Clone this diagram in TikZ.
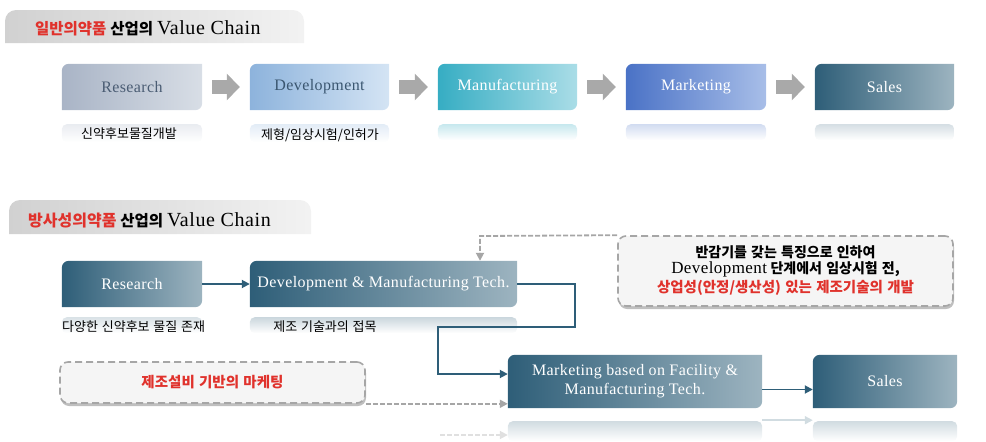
\documentclass[tikz,border=0pt]{standalone}
\usepackage{fontspec}
\setmainfont{Liberation Serif}
\newfontfamily\krfont[WordSpace=1.3]{Noto Sans CJK KR}
\newfontfamily\boxfont[LetterSpace=2.5]{Liberation Serif}
\newfontfamily\titlelatin[LetterSpace=3]{Liberation Serif}
\usetikzlibrary{arrows.meta,calc,backgrounds,shadows}
\definecolor{tred}{HTML}{E0322C}
\definecolor{tealL}{HTML}{2E5E78}
\definecolor{tealR}{HTML}{9DB4C0}
\definecolor{resL}{HTML}{A9B4C6}
\definecolor{resR}{HTML}{D8DEE6}
\definecolor{resT}{HTML}{4A5C73}
\definecolor{devL}{HTML}{8DB3DC}
\definecolor{devR}{HTML}{D4E4F4}
\definecolor{devT}{HTML}{3A5670}
\definecolor{manL}{HTML}{36ADC3}
\definecolor{manR}{HTML}{AADDE7}
\definecolor{mkL}{HTML}{4A72C6}
\definecolor{mkR}{HTML}{A8BEE8}
\definecolor{arrgray}{HTML}{A9A9A9}
\definecolor{dashgray}{HTML}{A6A6A6}
\definecolor{calloutfill}{HTML}{F5F5F5}
\tikzset{
  chainbox/.style={inner sep=0pt, minimum height=46pt, font=\boxfont\fontsize{16}{19}\selectfont},
  captiontext/.style={inner sep=0pt, font=\krfont\fontsize{13}{15}\selectfont, text=black},
  blockarrow/.style={draw=arrgray, line width=14pt, -{Triangle[length=13pt,width=26pt]}, shorten <=10pt, shorten >=10pt},
  flowline/.style={draw=tealL, line width=1.8pt, -{Triangle[length=8pt,width=8pt]}},
  dashflow/.style={draw=dashgray, line width=1.8pt, dash pattern=on 5pt off 2pt, -{Triangle[length=8pt,width=8pt]}},
  ghostline/.style={draw=tealL!22, line width=1.8pt, -{Triangle[length=8pt,width=8pt]}},
  ghostdash/.style={draw=black!12, line width=1.8pt, dash pattern=on 5pt off 2pt, -{Triangle[length=8pt,width=8pt]}},
  callout/.style={draw=dashgray, line width=1.6pt, dash pattern=on 7pt off 4pt, fill=calloutfill,
    rounded corners=8pt, inner sep=0pt,
    drop shadow={shadow xshift=1pt, shadow yshift=-3pt, fill=black!50, opacity=0.5}},
  titletext/.style={inner sep=0pt, anchor=west, font=\fontsize{15.5}{18}\selectfont},
}
\newcommand\chainshade[3]{%
  \begin{pgfonlayer}{background}
  \shade[left color=#2, right color=#3, rounded corners=7pt]
    (#1.north west) rectangle (#1.south east)
    [sharp corners] ($(#1.north east)+(-9pt,0pt)$) rectangle ($(#1.north east)+(0pt,-9pt)$)
    ($(#1.south west)+(0pt,9pt)$) rectangle ($(#1.south west)+(9pt,0pt)$);
  \end{pgfonlayer}}
\newcommand\reflectstrip[4]{%
  \begin{pgfonlayer}{background}
  \shade[top color=#2, bottom color=white, rounded corners=5pt]
    ($(#1.south west)+(0pt,-#3)$) rectangle ($(#1.south east)+(0pt,-#3-#4)$);
  \end{pgfonlayer}}
\newcommand\titlebanner[4]{%
  \shade[left color=black!18, right color=black!5, rounded corners=11pt]
    (#1,#2) rectangle (#3,#4)
    [sharp corners] (#1,#4-11) rectangle (#1+11,#4)
    (#3-11,#4-11) rectangle (#3,#4);}
\begin{document}
\begin{tikzpicture}[x=1pt,y=-1pt]
\useasboundingbox (0,0) rectangle (986,442);

% ---------- section 1 ----------
\titlebanner{5}{10}{304}{43}
\node[titletext] (title1) at (35,28) {{\krfont\bfseries\color{tred}일반의약품} {\krfont\bfseries 산업의} {\titlelatin\fontsize{20}{22}\selectfont Value Chain}};

\node[chainbox, minimum width=140pt, text=resT] (r1) at (132,87) {Research};
\node[chainbox, minimum width=139pt, text=devT] (d1) at (319.5,87) {Development};
\node[chainbox, minimum width=139pt, text=white] (m1) at (507.5,87) {Manufacturing};
\node[chainbox, minimum width=140pt, text=white] (k1) at (696,87) {Marketing};
\node[chainbox, minimum width=139pt, text=white] (s1) at (884.5,87) {Sales};
\chainshade{r1}{resL}{resR}
\chainshade{d1}{devL}{devR}
\chainshade{m1}{manL}{manR}
\chainshade{k1}{mkL}{mkR}
\chainshade{s1}{tealL}{tealR}
\reflectstrip{r1}{resL!25!white}{14pt}{18pt}
\reflectstrip{d1}{devL!25!white}{14pt}{18pt}
\reflectstrip{m1}{manL!28!white}{14pt}{16pt}
\reflectstrip{k1}{mkL!25!white}{14pt}{16pt}
\reflectstrip{s1}{tealL!20!white}{14pt}{16pt}

\draw[blockarrow] (r1) -- (d1);
\draw[blockarrow] (d1) -- (m1);
\draw[blockarrow] (m1) -- (k1);
\draw[blockarrow] (k1) -- (s1);

\node[captiontext] (r1cap) at (129,134) {신약후보물질개발};
\node[captiontext] (d1cap) at (320,135) {제형/임상시험/인허가};

% ---------- section 2 ----------
\titlebanner{9}{200}{311}{234}
\node[titletext] (title2) at (28,220) {{\krfont\bfseries\fontsize{16}{18}\selectfont\color{tred}방사성의약품} {\krfont\bfseries 산업의} {\titlelatin\fontsize{20}{22}\selectfont Value Chain}};

\node[chainbox, minimum width=140pt, text=white] (r2) at (132,284) {Research};
\node[chainbox, minimum width=267pt, text=white] (dm2) at (383.5,284) {Development \& Manufacturing Tech.};
\node[chainbox, minimum width=254pt, minimum height=53pt, text=white, align=center] (mk2) at (635,381.5)
  {Marketing based on Facility \&\\Manufacturing Tech.};
\node[chainbox, minimum width=144pt, minimum height=53pt, text=white] (s2) at (885,381.5) {Sales};
\chainshade{r2}{tealL}{tealR}
\chainshade{dm2}{tealL}{tealR}
\chainshade{mk2}{tealL}{tealR}
\chainshade{s2}{tealL}{tealR}
\reflectstrip{r2}{tealL!18!white}{10pt}{16pt}
\reflectstrip{dm2}{tealL!25!white}{10pt}{16pt}
\reflectstrip{mk2}{tealL!22!white}{13pt}{20pt}
\reflectstrip{s2}{tealL!22!white}{13pt}{20pt}

\node[captiontext, anchor=west] (r2cap) at (62,327) {다양한 신약후보 물질 존재};
\node[captiontext] (dm2cap) at (325,327) {제조 기술과의 접목};

\node[callout, minimum width=335pt, minimum height=70pt, align=center,
      font=\fontsize{14}{17}\selectfont] (c1) at (785.5,271)
  {{\krfont\bfseries 반감기를 갖는 특징으로 인하여}\\[-1pt]
   {\boxfont\fontsize{17}{17}\selectfont Development} {\krfont\bfseries 단계에서 임상시험 전,}\\[2pt]
   {\krfont\bfseries\fontsize{14.5}{17}\selectfont\color{tred}상업성(안정/생산성) 있는 제조기술의 개발}};
\node[callout, minimum width=305pt, minimum height=41pt,
      font=\fontsize{14.5}{16}\selectfont] (c2) at (212.5,382.5)
  {{\krfont\bfseries\color{tred}제조설비 기반의 마케팅}};

% connectors
\draw[flowline] (r2) -- (dm2);
\coordinate (b1) at (575,284);
\coordinate (b2) at (575,327);
\coordinate (b3) at (438,327);
\coordinate (b4) at (438,374);
\draw[flowline] (dm2.east) -- (b1) -- (b2) -- (b3) -- (b4) -- (b4 -| mk2.west);
\coordinate (a1) at ($(mk2.east)+(0pt,-8pt)$);
\draw[flowline] (a1) -- (a1 -| s2.west);
\coordinate (t1) at (480,236);
\draw[dashflow] (c1.north west) -- (t1) -- (t1 |- dm2.north);
\draw[dashflow] (c2.south east) -- (c2.south east -| mk2.west);
% faint mirrored connectors
\coordinate (a2) at ($(mk2.south east)+(0pt,-12pt)$);
\draw[ghostline] (a2) -- (a2 -| s2.west);
\coordinate (g1) at (440,435);
\draw[ghostdash] (g1) -- (g1 -| mk2.west);
\end{tikzpicture}
\end{document}
